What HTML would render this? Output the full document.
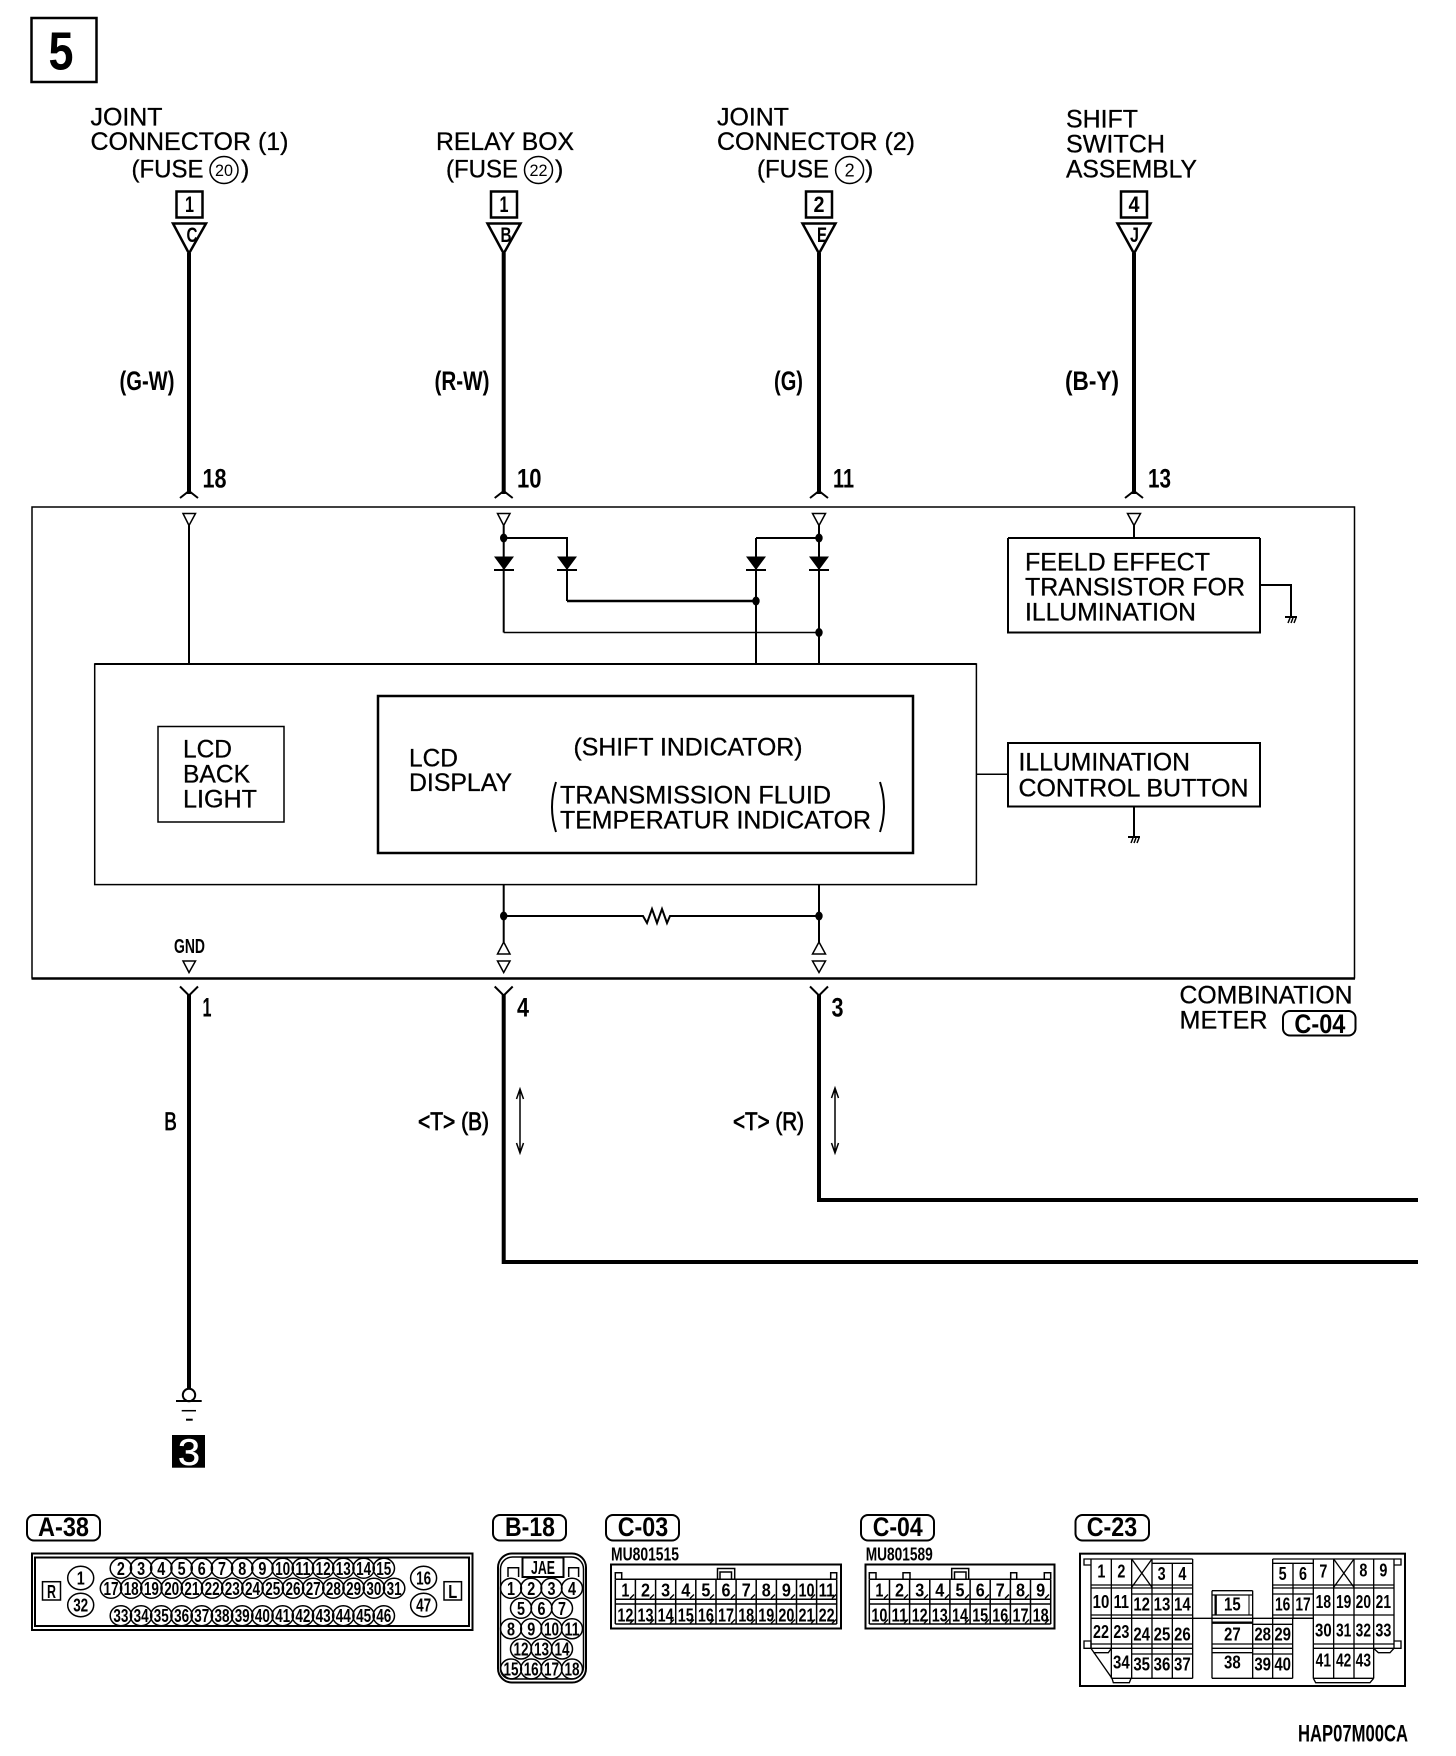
<!DOCTYPE html>
<html><head><meta charset="utf-8"><title>Diagram</title>
<style>
html,body{margin:0;padding:0;background:#fff}
svg{display:block}
text{font-family:"Liberation Sans",sans-serif;fill:#000}
.r{font-size:25px;stroke:#000;stroke-width:.3}
.b{font-size:27px;font-weight:bold}
.m{text-anchor:middle}
.d{font-size:18px;font-weight:bold;text-anchor:middle}
.k{font-size:56px;font-weight:bold;text-anchor:middle}
.t{fill:none;stroke:#000;stroke-width:1.5}
.w{fill:none;stroke:#000;stroke-width:2}
.h{fill:none;stroke:#000;stroke-width:4}
.z{fill:none;stroke:#000;stroke-width:2.5}
.e{fill:none;stroke:#000;stroke-width:1.4}
.f{fill:#000;stroke:none}
</style></head><body>
<svg xmlns="http://www.w3.org/2000/svg" width="1456" height="1756" viewBox="0 0 1456 1756">
<rect width="1456" height="1756" fill="#fff"/>

<!-- Section number -->
<rect class="z" x="31.5" y="18" width="65" height="64"/>
<text x="48.5" y="69.5" font-size="54" font-weight="bold" textLength="25" lengthAdjust="spacingAndGlyphs">5</text>

<!-- Top labels -->
<text class="r" x="90.5" y="125.7" textLength="72" lengthAdjust="spacingAndGlyphs">JOINT</text>
<text class="r" x="90.5" y="150" textLength="198" lengthAdjust="spacingAndGlyphs">CONNECTOR (1)</text>
<text class="r" x="131.5" y="177.5" textLength="72" lengthAdjust="spacingAndGlyphs">(FUSE</text>
<ellipse class="t" cx="224" cy="170" rx="14" ry="13.5"/>
<text class="m" x="224" y="176" font-size="17" textLength="18" lengthAdjust="spacingAndGlyphs">20</text>
<text class="r" x="241" y="177.5">)</text>

<text class="r" x="436" y="150" textLength="138" lengthAdjust="spacingAndGlyphs">RELAY BOX</text>
<text class="r" x="446" y="177.5" textLength="72" lengthAdjust="spacingAndGlyphs">(FUSE</text>
<ellipse class="t" cx="538.5" cy="170" rx="14" ry="13.5"/>
<text class="m" x="538.5" y="176" font-size="17" textLength="18" lengthAdjust="spacingAndGlyphs">22</text>
<text class="r" x="555" y="177.5">)</text>

<text class="r" x="717" y="125.7" textLength="72" lengthAdjust="spacingAndGlyphs">JOINT</text>
<text class="r" x="717" y="150" textLength="198" lengthAdjust="spacingAndGlyphs">CONNECTOR (2)</text>
<text class="r" x="757" y="177.5" textLength="72" lengthAdjust="spacingAndGlyphs">(FUSE</text>
<ellipse class="t" cx="849.6" cy="170" rx="14" ry="13.5"/>
<text class="m" x="849.6" y="176.5" font-size="18">2</text>
<text class="r" x="865" y="177.5">)</text>

<text class="r" x="1066" y="127.5" textLength="72" lengthAdjust="spacingAndGlyphs">SHIFT</text>
<text class="r" x="1066" y="152.5" textLength="99" lengthAdjust="spacingAndGlyphs">SWITCH</text>
<text class="r" x="1066" y="177.5" textLength="131" lengthAdjust="spacingAndGlyphs">ASSEMBLY</text>

<!-- Number squares -->
<rect class="z" x="176.5" y="191.5" width="26" height="26"/>
<text class="m" x="189.5" y="212" font-size="22" font-weight="bold" textLength="9" lengthAdjust="spacingAndGlyphs">1</text>
<rect class="z" x="491" y="191.5" width="26" height="26"/>
<text class="m" x="504" y="212" font-size="22" font-weight="bold" textLength="9" lengthAdjust="spacingAndGlyphs">1</text>
<rect class="z" x="806" y="191.5" width="26" height="26"/>
<text class="m" x="819" y="212" font-size="22" font-weight="bold" textLength="11" lengthAdjust="spacingAndGlyphs">2</text>
<rect class="z" x="1121" y="191.5" width="26" height="26"/>
<text class="m" x="1134" y="212" font-size="22" font-weight="bold" textLength="11" lengthAdjust="spacingAndGlyphs">4</text>

<!-- Big triangles -->
<path class="z" d="M173 223.5H206L189 253.5Z"/>
<path class="z" d="M487.5 223.5H520.5L503.7 253.5Z"/>
<path class="z" d="M802.5 223.5H835.5L819 253.5Z"/>
<path class="z" d="M1117.5 223.5H1150.5L1134 253.5Z"/>
<text class="m" x="192" y="242" font-size="21" font-weight="bold" textLength="11" lengthAdjust="spacingAndGlyphs">C</text>
<text class="m" x="506" y="242" font-size="21" font-weight="bold" textLength="11" lengthAdjust="spacingAndGlyphs">B</text>
<text class="m" x="822" y="242" font-size="21" font-weight="bold" textLength="10" lengthAdjust="spacingAndGlyphs">E</text>
<text class="m" x="1134.5" y="242" font-size="21" font-weight="bold" textLength="9" lengthAdjust="spacingAndGlyphs">J</text>

<!-- Upper wires -->
<path class="h" d="M189 253V494M503.7 253V494M819 253V494M1134 253V494"/>
<path class="w" d="M180 498L189 491L198 498M494.7 498L503.7 491L512.7 498M810 498L819 491L828 498M1125 498L1134 491L1143 498"/>

<text class="b" x="119.5" y="390" font-size="28" textLength="55" lengthAdjust="spacingAndGlyphs">(G-W)</text>
<text class="b" x="434.5" y="390" font-size="28" textLength="55" lengthAdjust="spacingAndGlyphs">(R-W)</text>
<text class="b" x="774" y="390" font-size="28" textLength="29" lengthAdjust="spacingAndGlyphs">(G)</text>
<text class="b" x="1065" y="390" font-size="28" textLength="54" lengthAdjust="spacingAndGlyphs">(B-Y)</text>
<text class="b" x="202.5" y="487.5" textLength="24" lengthAdjust="spacingAndGlyphs">18</text>
<text class="b" x="517" y="487.5" textLength="24.5" lengthAdjust="spacingAndGlyphs">10</text>
<text class="b" x="833" y="487.5" textLength="21" lengthAdjust="spacingAndGlyphs">11</text>
<text class="b" x="1148" y="487.5" textLength="23" lengthAdjust="spacingAndGlyphs">13</text>

<!-- Meter box -->
<path class="t" d="M32 978.5V507H1354.5V978.5"/>
<path class="z" d="M31.5 978.5H1355"/>

<!-- Small triangles top -->
<path class="t" d="M183 513.5H195.5L189 525.5Z"/>
<path class="t" d="M497.5 513.5H510L503.7 525.5Z"/>
<path class="t" d="M812.5 513.5H825.5L819 525.5Z"/>
<path class="t" d="M1127.5 513.5H1140.5L1134 525.5Z"/>

<!-- Inner wires -->
<path class="w" d="M189 525.5V664"/>
<path class="w" d="M503.7 525.5V632.5M503.7 538H567V601M756 538H819M819 525.5V664M756 538V664M1134 525.5V538"/>
<path class="z" d="M567 601H756"/>
<path class="t" d="M503.7 632.5H819"/>
<ellipse class="f" cx="503.7" cy="538" rx="3.7" ry="4.5"/>
<ellipse class="f" cx="819" cy="538" rx="3.7" ry="4.5"/>
<ellipse class="f" cx="756" cy="601" rx="3.7" ry="4.5"/>
<ellipse class="f" cx="819" cy="632.5" rx="3.7" ry="4.5"/>
<path class="f" d="M494 556.5H514L504 570ZM557 556.5H577L567 570ZM746 556.5H766L756 570ZM809 556.5H829L819 570Z"/>
<path class="w" d="M494 570H514M557 570H577M746 570H766M809 570H829"/>

<!-- FET box -->
<path class="w" d="M1008 538H1260M1008 538V632.5H1260V538"/>
<text class="r" x="1025" y="570.7" textLength="185" lengthAdjust="spacingAndGlyphs">FEELD EFFECT</text>
<text class="r" x="1025" y="595.7" textLength="220" lengthAdjust="spacingAndGlyphs">TRANSISTOR FOR</text>
<text class="r" x="1025" y="620.7" textLength="171" lengthAdjust="spacingAndGlyphs">ILLUMINATION</text>
<path class="w" d="M1261 585H1291V617"/>
<path class="w" d="M1285 617H1297"/>
<path class="t" d="M1288 623L1290 618M1291 623L1293 618M1294 623L1296 618"/>

<!-- Illumination control -->
<rect class="w" x="1008" y="743" width="252" height="63.5"/>
<text class="r" x="1018.5" y="770.7" textLength="171.5" lengthAdjust="spacingAndGlyphs">ILLUMINATION</text>
<text class="r" x="1018.5" y="796.4" textLength="230" lengthAdjust="spacingAndGlyphs">CONTROL BUTTON</text>
<path class="t" d="M976.5 774.3H1008"/>
<path class="w" d="M1134 806.5V837M1128 837H1140"/>
<path class="t" d="M1131 843L1133 838M1134 843L1136 838M1137 843L1139 838"/>

<!-- LCD outer box -->
<rect class="t" x="94.7" y="664" width="881.7" height="220.6"/>
<path class="w" d="M94.7 664H976.4"/>
<rect class="t" x="158" y="726.5" width="126" height="95.5"/>
<text class="r" x="183" y="757.5" textLength="49" lengthAdjust="spacingAndGlyphs">LCD</text>
<text class="r" x="183" y="782.5" textLength="67" lengthAdjust="spacingAndGlyphs">BACK</text>
<text class="r" x="183" y="807.5" textLength="74" lengthAdjust="spacingAndGlyphs">LIGHT</text>

<rect class="z" x="378" y="696" width="535" height="157"/>
<text class="r" x="409" y="766.5" textLength="49" lengthAdjust="spacingAndGlyphs">LCD</text>
<text class="r" x="409" y="791" textLength="103" lengthAdjust="spacingAndGlyphs">DISPLAY</text>
<text class="r" x="573.5" y="755.4" textLength="229" lengthAdjust="spacingAndGlyphs">(SHIFT INDICATOR)</text>
<text class="r" x="560" y="803.6" textLength="271" lengthAdjust="spacingAndGlyphs">TRANSMISSION FLUID</text>
<text class="r" x="560" y="828.6" textLength="311" lengthAdjust="spacingAndGlyphs">TEMPERATUR INDICATOR</text>
<path class="w" d="M556 782Q548 807 556 832M880 782Q888 807 880 832"/>

<!-- Lower inner -->
<path class="w" d="M503.7 884.6V942M819 884.6V942"/>
<path class="w" d="M503.7 916H643L647 923L652 909L657 923L662 909L667 923L670 916H819"/>
<ellipse class="f" cx="503.7" cy="916" rx="3.7" ry="4.5"/>
<ellipse class="f" cx="819" cy="916" rx="3.7" ry="4.5"/>
<path class="t" d="M503.7 942L510 954H497.5Z"/>
<path class="t" d="M819 942L825.5 954H812.5Z"/>
<path class="t" d="M183 961H195.5L189 972.5Z"/>
<path class="t" d="M497.5 961H510L503.7 972.5Z"/>
<path class="t" d="M812.5 961H825.5L819 972.5Z"/>
<text class="m" x="189.5" y="953" font-size="20" font-weight="bold" textLength="31" lengthAdjust="spacingAndGlyphs">GND</text>

<!-- Lower wires -->
<path class="w" d="M180 986.5L189 995.5L198 986.5M494.7 986.5L503.7 995.5L512.7 986.5M810 986.5L819 995.5L828 986.5"/>
<path class="h" d="M189 994V1388"/>
<path class="h" d="M503.7 994V1262H1418"/>
<path class="h" d="M819 994V1200H1418"/>
<text class="b" x="202.5" y="1016.5" textLength="9" lengthAdjust="spacingAndGlyphs">1</text>
<text class="b" x="517" y="1016.5" textLength="12" lengthAdjust="spacingAndGlyphs">4</text>
<text class="b" x="831.5" y="1016.5" textLength="12" lengthAdjust="spacingAndGlyphs">3</text>

<text class="r" x="1179.5" y="1003.6" textLength="173" lengthAdjust="spacingAndGlyphs">COMBINATION</text>
<text class="r" x="1179.5" y="1028.6" textLength="88" lengthAdjust="spacingAndGlyphs">METER</text>
<rect class="w" x="1283" y="1011" width="72.5" height="24.5" rx="7"/>
<text class="b" x="1294.4" y="1033" textLength="51" lengthAdjust="spacingAndGlyphs">C-04</text>

<text class="r" x="164.3" y="1130" textLength="12.5" lengthAdjust="spacingAndGlyphs" style="stroke-width:.8">B</text>
<text class="r" x="418" y="1130" textLength="71" lengthAdjust="spacingAndGlyphs" style="stroke-width:.8">&lt;T&gt; (B)</text>
<text class="r" x="733" y="1130" textLength="71" lengthAdjust="spacingAndGlyphs" style="stroke-width:.8">&lt;T&gt; (R)</text>
<path class="t" d="M520 1089V1153M516.5 1099L520 1089L523.5 1099M516.5 1143L520 1153L523.5 1143"/>
<path class="t" d="M835 1088V1153M831.5 1098L835 1088L838.5 1098M831.5 1143L835 1153L838.5 1143"/>

<!-- Ground -->
<circle class="w" cx="189" cy="1395" r="6.2"/>
<path class="w" d="M176 1401H201.7"/>
<path class="t" d="M181.7 1410.7H196"/>
<path class="w" d="M186 1419.7H192.7"/>
<rect class="f" x="172" y="1435" width="33" height="32.7"/>
<text class="m" x="189" y="1465" font-size="37" textLength="22" lengthAdjust="spacingAndGlyphs" style="fill:#fff;stroke:#fff;stroke-width:.5">3</text>

<!-- A-38 -->
<rect class="w" x="27" y="1515" width="73" height="25.5" rx="7"/>
<text class="b" x="38" y="1536" textLength="51" lengthAdjust="spacingAndGlyphs">A-38</text>
<rect class="w" x="32" y="1553.5" width="440.5" height="76.5"/>
<rect class="w" x="35" y="1557.5" width="434" height="68.5"/>
<rect class="t" x="42.5" y="1581.7" width="18" height="18.3"/>
<text class="d" x="51.5" y="1598" font-size="17" textLength="9" lengthAdjust="spacingAndGlyphs">R</text>
<rect class="t" x="444" y="1581.7" width="17.5" height="18.3"/>
<text class="d" x="452.7" y="1598" textLength="9" lengthAdjust="spacingAndGlyphs">L</text>
<g class="t">
<ellipse cx="80.7" cy="1578" rx="13" ry="11.7"/><ellipse cx="80.7" cy="1605" rx="13" ry="11.7"/><ellipse cx="423.6" cy="1578" rx="13" ry="11.7"/><ellipse cx="423.6" cy="1605" rx="13" ry="11.7"/>
<ellipse cx="120.9" cy="1568.3" rx="10.7" ry="10"/><ellipse cx="141.1" cy="1568.3" rx="10.7" ry="10"/><ellipse cx="161.3" cy="1568.3" rx="10.7" ry="10"/><ellipse cx="181.6" cy="1568.3" rx="10.7" ry="10"/><ellipse cx="201.8" cy="1568.3" rx="10.7" ry="10"/><ellipse cx="222" cy="1568.3" rx="10.7" ry="10"/><ellipse cx="242.2" cy="1568.3" rx="10.7" ry="10"/><ellipse cx="262.4" cy="1568.3" rx="10.7" ry="10"/><ellipse cx="282.7" cy="1568.3" rx="10.7" ry="10"/><ellipse cx="302.9" cy="1568.3" rx="10.7" ry="10"/><ellipse cx="323.1" cy="1568.3" rx="10.7" ry="10"/><ellipse cx="343.3" cy="1568.3" rx="10.7" ry="10"/><ellipse cx="363.6" cy="1568.3" rx="10.7" ry="10"/><ellipse cx="383.8" cy="1568.3" rx="10.7" ry="10"/>
<ellipse cx="111" cy="1588.3" rx="10.7" ry="10"/><ellipse cx="131.2" cy="1588.3" rx="10.7" ry="10"/><ellipse cx="151.4" cy="1588.3" rx="10.7" ry="10"/><ellipse cx="171.7" cy="1588.3" rx="10.7" ry="10"/><ellipse cx="191.9" cy="1588.3" rx="10.7" ry="10"/><ellipse cx="212.1" cy="1588.3" rx="10.7" ry="10"/><ellipse cx="232.3" cy="1588.3" rx="10.7" ry="10"/><ellipse cx="252.5" cy="1588.3" rx="10.7" ry="10"/><ellipse cx="272.8" cy="1588.3" rx="10.7" ry="10"/><ellipse cx="293" cy="1588.3" rx="10.7" ry="10"/><ellipse cx="313.2" cy="1588.3" rx="10.7" ry="10"/><ellipse cx="333.4" cy="1588.3" rx="10.7" ry="10"/><ellipse cx="353.6" cy="1588.3" rx="10.7" ry="10"/><ellipse cx="373.9" cy="1588.3" rx="10.7" ry="10"/><ellipse cx="394.1" cy="1588.3" rx="10.7" ry="10"/>
<ellipse cx="120.9" cy="1615.7" rx="10.7" ry="10"/><ellipse cx="141.1" cy="1615.7" rx="10.7" ry="10"/><ellipse cx="161.3" cy="1615.7" rx="10.7" ry="10"/><ellipse cx="181.6" cy="1615.7" rx="10.7" ry="10"/><ellipse cx="201.8" cy="1615.7" rx="10.7" ry="10"/><ellipse cx="222" cy="1615.7" rx="10.7" ry="10"/><ellipse cx="242.2" cy="1615.7" rx="10.7" ry="10"/><ellipse cx="262.4" cy="1615.7" rx="10.7" ry="10"/><ellipse cx="282.7" cy="1615.7" rx="10.7" ry="10"/><ellipse cx="302.9" cy="1615.7" rx="10.7" ry="10"/><ellipse cx="323.1" cy="1615.7" rx="10.7" ry="10"/><ellipse cx="343.3" cy="1615.7" rx="10.7" ry="10"/><ellipse cx="363.6" cy="1615.7" rx="10.7" ry="10"/><ellipse cx="383.8" cy="1615.7" rx="10.7" ry="10"/>
</g>
<g>
<text class="d" x="80.7" y="1584.5" textLength="8" lengthAdjust="spacingAndGlyphs">1</text><text class="d" x="80.7" y="1611.5" textLength="15" lengthAdjust="spacingAndGlyphs">32</text><text class="d" x="423.6" y="1584.5" textLength="15" lengthAdjust="spacingAndGlyphs">16</text><text class="d" x="423.6" y="1611.5" textLength="15" lengthAdjust="spacingAndGlyphs">47</text>
<text class="d" x="120.9" y="1575" textLength="8" lengthAdjust="spacingAndGlyphs">2</text><text class="d" x="141.1" y="1575" textLength="8" lengthAdjust="spacingAndGlyphs">3</text><text class="d" x="161.3" y="1575" textLength="8" lengthAdjust="spacingAndGlyphs">4</text><text class="d" x="181.6" y="1575" textLength="8" lengthAdjust="spacingAndGlyphs">5</text><text class="d" x="201.8" y="1575" textLength="8" lengthAdjust="spacingAndGlyphs">6</text><text class="d" x="222" y="1575" textLength="8" lengthAdjust="spacingAndGlyphs">7</text><text class="d" x="242.2" y="1575" textLength="8" lengthAdjust="spacingAndGlyphs">8</text><text class="d" x="262.4" y="1575" textLength="8" lengthAdjust="spacingAndGlyphs">9</text><text class="d" x="282.7" y="1575" textLength="15" lengthAdjust="spacingAndGlyphs">10</text><text class="d" x="302.9" y="1575" textLength="15" lengthAdjust="spacingAndGlyphs">11</text><text class="d" x="323.1" y="1575" textLength="15" lengthAdjust="spacingAndGlyphs">12</text><text class="d" x="343.3" y="1575" textLength="15" lengthAdjust="spacingAndGlyphs">13</text><text class="d" x="363.6" y="1575" textLength="15" lengthAdjust="spacingAndGlyphs">14</text><text class="d" x="383.8" y="1575" textLength="15" lengthAdjust="spacingAndGlyphs">15</text>
<text class="d" x="111" y="1595" textLength="15" lengthAdjust="spacingAndGlyphs">17</text><text class="d" x="131.2" y="1595" textLength="15" lengthAdjust="spacingAndGlyphs">18</text><text class="d" x="151.4" y="1595" textLength="15" lengthAdjust="spacingAndGlyphs">19</text><text class="d" x="171.7" y="1595" textLength="15" lengthAdjust="spacingAndGlyphs">20</text><text class="d" x="191.9" y="1595" textLength="15" lengthAdjust="spacingAndGlyphs">21</text><text class="d" x="212.1" y="1595" textLength="15" lengthAdjust="spacingAndGlyphs">22</text><text class="d" x="232.3" y="1595" textLength="15" lengthAdjust="spacingAndGlyphs">23</text><text class="d" x="252.5" y="1595" textLength="15" lengthAdjust="spacingAndGlyphs">24</text><text class="d" x="272.8" y="1595" textLength="15" lengthAdjust="spacingAndGlyphs">25</text><text class="d" x="293" y="1595" textLength="15" lengthAdjust="spacingAndGlyphs">26</text><text class="d" x="313.2" y="1595" textLength="15" lengthAdjust="spacingAndGlyphs">27</text><text class="d" x="333.4" y="1595" textLength="15" lengthAdjust="spacingAndGlyphs">28</text><text class="d" x="353.6" y="1595" textLength="15" lengthAdjust="spacingAndGlyphs">29</text><text class="d" x="373.9" y="1595" textLength="15" lengthAdjust="spacingAndGlyphs">30</text><text class="d" x="394.1" y="1595" textLength="15" lengthAdjust="spacingAndGlyphs">31</text>
<text class="d" x="120.9" y="1622" textLength="15" lengthAdjust="spacingAndGlyphs">33</text><text class="d" x="141.1" y="1622" textLength="15" lengthAdjust="spacingAndGlyphs">34</text><text class="d" x="161.3" y="1622" textLength="15" lengthAdjust="spacingAndGlyphs">35</text><text class="d" x="181.6" y="1622" textLength="15" lengthAdjust="spacingAndGlyphs">36</text><text class="d" x="201.8" y="1622" textLength="15" lengthAdjust="spacingAndGlyphs">37</text><text class="d" x="222" y="1622" textLength="15" lengthAdjust="spacingAndGlyphs">38</text><text class="d" x="242.2" y="1622" textLength="15" lengthAdjust="spacingAndGlyphs">39</text><text class="d" x="262.4" y="1622" textLength="15" lengthAdjust="spacingAndGlyphs">40</text><text class="d" x="282.7" y="1622" textLength="15" lengthAdjust="spacingAndGlyphs">41</text><text class="d" x="302.9" y="1622" textLength="15" lengthAdjust="spacingAndGlyphs">42</text><text class="d" x="323.1" y="1622" textLength="15" lengthAdjust="spacingAndGlyphs">43</text><text class="d" x="343.3" y="1622" textLength="15" lengthAdjust="spacingAndGlyphs">44</text><text class="d" x="363.6" y="1622" textLength="15" lengthAdjust="spacingAndGlyphs">45</text><text class="d" x="383.8" y="1622" textLength="15" lengthAdjust="spacingAndGlyphs">46</text>
</g>

<!-- B-18 -->
<rect class="w" x="493" y="1515" width="73" height="25.5" rx="7"/>
<text class="b" x="505" y="1536" textLength="50" lengthAdjust="spacingAndGlyphs">B-18</text>
<rect class="w" x="498" y="1553.5" width="88" height="129" rx="14"/>
<rect class="t" x="500.5" y="1557" width="83" height="122" rx="12"/>
<rect class="w" x="522.5" y="1557.5" width="41" height="19.5"/>
<text class="d" x="543" y="1574" textLength="24" lengthAdjust="spacingAndGlyphs">JAE</text>
<path class="t" d="M508 1577V1567.7H518.6V1577M568.7 1577V1567.7H578.6V1577"/>
<g class="t">
<ellipse cx="511" cy="1588.3" rx="10.5" ry="10"/><ellipse cx="531.2" cy="1588.3" rx="10.5" ry="10"/><ellipse cx="551.5" cy="1588.3" rx="10.5" ry="10"/><ellipse cx="572" cy="1588.3" rx="10.5" ry="10"/>
<ellipse cx="521" cy="1608.3" rx="10.5" ry="10"/><ellipse cx="541.5" cy="1608.3" rx="10.5" ry="10"/><ellipse cx="562" cy="1608.3" rx="10.5" ry="10"/>
<ellipse cx="511" cy="1628.7" rx="10.5" ry="10"/><ellipse cx="531.2" cy="1628.7" rx="10.5" ry="10"/><ellipse cx="551.5" cy="1628.7" rx="10.5" ry="10"/><ellipse cx="572" cy="1628.7" rx="10.5" ry="10"/>
<ellipse cx="521" cy="1649" rx="10.5" ry="10"/><ellipse cx="541.5" cy="1649" rx="10.5" ry="10"/><ellipse cx="562" cy="1649" rx="10.5" ry="10"/>
<ellipse cx="511" cy="1669" rx="10.5" ry="10"/><ellipse cx="531.2" cy="1669" rx="10.5" ry="10"/><ellipse cx="551.5" cy="1669" rx="10.5" ry="10"/><ellipse cx="572" cy="1669" rx="10.5" ry="10"/>
</g>
<g>
<text class="d" x="511" y="1595" textLength="8" lengthAdjust="spacingAndGlyphs">1</text><text class="d" x="531.2" y="1595" textLength="8" lengthAdjust="spacingAndGlyphs">2</text><text class="d" x="551.5" y="1595" textLength="8" lengthAdjust="spacingAndGlyphs">3</text><text class="d" x="572" y="1595" textLength="8" lengthAdjust="spacingAndGlyphs">4</text>
<text class="d" x="521" y="1615" textLength="8" lengthAdjust="spacingAndGlyphs">5</text><text class="d" x="541.5" y="1615" textLength="8" lengthAdjust="spacingAndGlyphs">6</text><text class="d" x="562" y="1615" textLength="8" lengthAdjust="spacingAndGlyphs">7</text>
<text class="d" x="511" y="1635.4" textLength="8" lengthAdjust="spacingAndGlyphs">8</text><text class="d" x="531.2" y="1635.4" textLength="8" lengthAdjust="spacingAndGlyphs">9</text><text class="d" x="551.5" y="1635.4" textLength="15" lengthAdjust="spacingAndGlyphs">10</text><text class="d" x="572" y="1635.4" textLength="15" lengthAdjust="spacingAndGlyphs">11</text>
<text class="d" x="521" y="1655.7" textLength="15" lengthAdjust="spacingAndGlyphs">12</text><text class="d" x="541.5" y="1655.7" textLength="15" lengthAdjust="spacingAndGlyphs">13</text><text class="d" x="562" y="1655.7" textLength="15" lengthAdjust="spacingAndGlyphs">14</text>
<text class="d" x="511" y="1675.7" textLength="15" lengthAdjust="spacingAndGlyphs">15</text><text class="d" x="531.2" y="1675.7" textLength="15" lengthAdjust="spacingAndGlyphs">16</text><text class="d" x="551.5" y="1675.7" textLength="15" lengthAdjust="spacingAndGlyphs">17</text><text class="d" x="572" y="1675.7" textLength="15" lengthAdjust="spacingAndGlyphs">18</text>
</g>

<!-- C-03 -->
<rect class="w" x="606" y="1515" width="73" height="25.5" rx="7"/>
<text class="b" x="617.7" y="1536" textLength="50.5" lengthAdjust="spacingAndGlyphs">C-03</text>
<text x="611" y="1560.7" font-size="18" font-weight="bold" textLength="68" lengthAdjust="spacingAndGlyphs">MU801515</text>
<rect class="w" x="611" y="1564.5" width="230" height="64"/>
<path class="t" d="M615.3 1579.3H836.7M615.3 1599.3H836.7M615.3 1604H836.7M615.3 1624H836.7"/>
<path class="t" d="M615.3 1579.3V1624M635.4 1579.3V1624M655.6 1579.3V1624M675.7 1579.3V1624M695.8 1579.3V1624M716 1579.3V1624M736.1 1579.3V1624M756.2 1579.3V1624M776.4 1579.3V1624M796.5 1579.3V1624M816.6 1579.3V1624M836.7 1579.3V1624"/>
<path class="t" d="M615.3 1579V1572.7H621.7V1579M830.7 1579V1572.7H836.7V1579M717.5 1579V1568.5H734.7V1579M720 1579V1572H731.5V1579"/>
<path class="e" d="M630 1598.5l4-4M650 1598.5l4-4M670 1598.5l4-4M690 1598.5l4-4M710 1598.5l4-4M731 1598.5l4-4M751 1598.5l4-4M771 1598.5l4-4M791 1598.5l4-4M811 1598.5l4-4M832 1598.5l4-4M630 1623.5l4-4M650 1623.5l4-4M670 1623.5l4-4M690 1623.5l4-4M710 1623.5l4-4M731 1623.5l4-4M751 1623.5l4-4M771 1623.5l4-4M791 1623.5l4-4M811 1623.5l4-4M832 1623.5l4-4"/>
<g>
<text class="d" x="625.4" y="1596.7" textLength="8" lengthAdjust="spacingAndGlyphs">1</text><text class="d" x="645.5" y="1596.7" textLength="9" lengthAdjust="spacingAndGlyphs">2</text><text class="d" x="665.6" y="1596.7" textLength="9" lengthAdjust="spacingAndGlyphs">3</text><text class="d" x="685.8" y="1596.7" textLength="9" lengthAdjust="spacingAndGlyphs">4</text><text class="d" x="705.9" y="1596.7" textLength="9" lengthAdjust="spacingAndGlyphs">5</text><text class="d" x="726" y="1596.7" textLength="9" lengthAdjust="spacingAndGlyphs">6</text><text class="d" x="746.2" y="1596.7" textLength="9" lengthAdjust="spacingAndGlyphs">7</text><text class="d" x="766.3" y="1596.7" textLength="9" lengthAdjust="spacingAndGlyphs">8</text><text class="d" x="786.4" y="1596.7" textLength="9" lengthAdjust="spacingAndGlyphs">9</text><text class="d" x="806.5" y="1596.7" textLength="16" lengthAdjust="spacingAndGlyphs">10</text><text class="d" x="826.6" y="1596.7" textLength="16" lengthAdjust="spacingAndGlyphs">11</text>
<text class="d" x="625.4" y="1621.7" textLength="16" lengthAdjust="spacingAndGlyphs">12</text><text class="d" x="645.5" y="1621.7" textLength="16" lengthAdjust="spacingAndGlyphs">13</text><text class="d" x="665.6" y="1621.7" textLength="16" lengthAdjust="spacingAndGlyphs">14</text><text class="d" x="685.8" y="1621.7" textLength="16" lengthAdjust="spacingAndGlyphs">15</text><text class="d" x="705.9" y="1621.7" textLength="16" lengthAdjust="spacingAndGlyphs">16</text><text class="d" x="726" y="1621.7" textLength="16" lengthAdjust="spacingAndGlyphs">17</text><text class="d" x="746.2" y="1621.7" textLength="16" lengthAdjust="spacingAndGlyphs">18</text><text class="d" x="766.3" y="1621.7" textLength="16" lengthAdjust="spacingAndGlyphs">19</text><text class="d" x="786.4" y="1621.7" textLength="16" lengthAdjust="spacingAndGlyphs">20</text><text class="d" x="806.5" y="1621.7" textLength="16" lengthAdjust="spacingAndGlyphs">21</text><text class="d" x="826.6" y="1621.7" textLength="16" lengthAdjust="spacingAndGlyphs">22</text>
</g>

<!-- C-04 -->
<rect class="w" x="861" y="1515" width="73" height="25.5" rx="7"/>
<text class="b" x="872.7" y="1536" textLength="50" lengthAdjust="spacingAndGlyphs">C-04</text>
<text x="865.7" y="1560.7" font-size="18" font-weight="bold" textLength="67" lengthAdjust="spacingAndGlyphs">MU801589</text>
<rect class="w" x="865.5" y="1564.5" width="189" height="64"/>
<path class="t" d="M869.3 1579.3H1050.7M869.3 1599.3H1050.7M869.3 1604H1050.7M869.3 1624H1050.7"/>
<path class="t" d="M869.3 1579.3V1624M889.5 1579.3V1624M909.6 1579.3V1624M929.8 1579.3V1624M949.9 1579.3V1624M970.1 1579.3V1624M990.2 1579.3V1624M1010.4 1579.3V1624M1030.5 1579.3V1624M1050.7 1579.3V1624"/>
<path class="t" d="M869.3 1579V1572.7H876V1579M903 1579V1572.7H910V1579M1010.7 1579V1572.7H1016.7V1579M1044.3 1579V1572.7H1050.7V1579M951.7 1579V1568.5H968.7V1579M954.5 1579V1572H966V1579"/>
<path class="e" d="M884 1598.5l4-4M904 1598.5l4-4M924 1598.5l4-4M945 1598.5l4-4M965 1598.5l4-4M985 1598.5l4-4M1005 1598.5l4-4M1025 1598.5l4-4M1045 1598.5l4-4M884 1623.5l4-4M904 1623.5l4-4M924 1623.5l4-4M945 1623.5l4-4M965 1623.5l4-4M985 1623.5l4-4M1005 1623.5l4-4M1025 1623.5l4-4M1045 1623.5l4-4"/>
<g>
<text class="d" x="879.4" y="1596.7" textLength="8" lengthAdjust="spacingAndGlyphs">1</text><text class="d" x="899.5" y="1596.7" textLength="9" lengthAdjust="spacingAndGlyphs">2</text><text class="d" x="919.7" y="1596.7" textLength="9" lengthAdjust="spacingAndGlyphs">3</text><text class="d" x="939.8" y="1596.7" textLength="9" lengthAdjust="spacingAndGlyphs">4</text><text class="d" x="960" y="1596.7" textLength="9" lengthAdjust="spacingAndGlyphs">5</text><text class="d" x="980.2" y="1596.7" textLength="9" lengthAdjust="spacingAndGlyphs">6</text><text class="d" x="1000.3" y="1596.7" textLength="9" lengthAdjust="spacingAndGlyphs">7</text><text class="d" x="1020.5" y="1596.7" textLength="9" lengthAdjust="spacingAndGlyphs">8</text><text class="d" x="1040.6" y="1596.7" textLength="9" lengthAdjust="spacingAndGlyphs">9</text>
<text class="d" x="879.4" y="1621.7" textLength="16" lengthAdjust="spacingAndGlyphs">10</text><text class="d" x="899.5" y="1621.7" textLength="16" lengthAdjust="spacingAndGlyphs">11</text><text class="d" x="919.7" y="1621.7" textLength="16" lengthAdjust="spacingAndGlyphs">12</text><text class="d" x="939.8" y="1621.7" textLength="16" lengthAdjust="spacingAndGlyphs">13</text><text class="d" x="960" y="1621.7" textLength="16" lengthAdjust="spacingAndGlyphs">14</text><text class="d" x="980.2" y="1621.7" textLength="16" lengthAdjust="spacingAndGlyphs">15</text><text class="d" x="1000.3" y="1621.7" textLength="16" lengthAdjust="spacingAndGlyphs">16</text><text class="d" x="1020.5" y="1621.7" textLength="16" lengthAdjust="spacingAndGlyphs">17</text><text class="d" x="1040.6" y="1621.7" textLength="16" lengthAdjust="spacingAndGlyphs">18</text>
</g>

<!-- C-23 -->
<rect class="w" x="1075.5" y="1515" width="73.5" height="25.5" rx="7"/>
<text class="b" x="1086.7" y="1536" textLength="50.5" lengthAdjust="spacingAndGlyphs">C-23</text>
<g transform="translate(1050 1500) scale(.33333)">
<rect x="90" y="161" width="975" height="397" fill="none" stroke="#000" stroke-width="6"/>
<g fill="none" stroke="#000" stroke-width="4">
<path d="M123 195H102V177H123M123 445H102V423H123V445M1032 195H1053V177H1032M1032 445H1053V423H1032"/>
<path d="M123 177H428M306 190H428M123 255H428M123 264H428M245 282H428M123 345H428M123 355H486M123 432H428M123 445H428M245 462H428M184 535H428"/>
<path d="M123 177V445M184 177V535M245 177V535M306 177V535M367 190V535M428 177V535"/>
<path d="M245 177L306 262M306 177L245 262M851 177L912 262M912 177L851 262"/>
<path d="M123 445L186 535L190 548H238L243 535M130 458H175L184 445"/>
<path d="M486 272H608M486 285H608M486 345H608M486 355H608M486 432H608M486 445H608M486 458H608M486 535H728M486 272V535M608 272V535"/>
<path d="M608 355H790M608 373H728M608 432H728M608 445H728M608 462H728M668 355V535M728 355V535"/>
<path d="M668 177H1032M668 190H790M668 255H1032M668 264H1032M668 282H790M668 345H1032M668 355H790M790 432H1032M790 445H1032M790 535H971"/>
<path d="M668 177V355M729 190V355M790 177V535M851 177V535M912 177V535M971 177V535M1032 177V445"/>
<path d="M790 535L797 548H960L971 535M971 445L985 458H1020L1032 445"/>
</g>
<path d="M486 368H608M497 285V345" fill="none" stroke="#000" stroke-width="7"/>
<path d="M597 285V345" fill="none" stroke="#000" stroke-width="3"/>
<g>
<text class="k" x="154" y="232" textLength="24" lengthAdjust="spacingAndGlyphs">1</text><text class="k" x="214" y="232" textLength="24" lengthAdjust="spacingAndGlyphs">2</text><text class="k" x="335" y="240" textLength="24" lengthAdjust="spacingAndGlyphs">3</text><text class="k" x="397" y="240" textLength="24" lengthAdjust="spacingAndGlyphs">4</text><text class="k" x="698" y="240" textLength="24" lengthAdjust="spacingAndGlyphs">5</text><text class="k" x="759" y="240" textLength="24" lengthAdjust="spacingAndGlyphs">6</text><text class="k" x="820" y="232" textLength="24" lengthAdjust="spacingAndGlyphs">7</text><text class="k" x="940" y="230" textLength="24" lengthAdjust="spacingAndGlyphs">8</text><text class="k" x="1000" y="230" textLength="24" lengthAdjust="spacingAndGlyphs">9</text>
<text class="k" x="153" y="324" textLength="50" lengthAdjust="spacingAndGlyphs">10</text><text class="k" x="214" y="324" textLength="46" lengthAdjust="spacingAndGlyphs">11</text><text class="k" x="275" y="332" textLength="50" lengthAdjust="spacingAndGlyphs">12</text><text class="k" x="336" y="332" textLength="50" lengthAdjust="spacingAndGlyphs">13</text><text class="k" x="397" y="332" textLength="50" lengthAdjust="spacingAndGlyphs">14</text><text class="k" x="547" y="332" textLength="50" lengthAdjust="spacingAndGlyphs">15</text><text class="k" x="698" y="332" textLength="46" lengthAdjust="spacingAndGlyphs">16</text><text class="k" x="759" y="332" textLength="46" lengthAdjust="spacingAndGlyphs">17</text><text class="k" x="820" y="324" textLength="46" lengthAdjust="spacingAndGlyphs">18</text><text class="k" x="881" y="324" textLength="46" lengthAdjust="spacingAndGlyphs">19</text><text class="k" x="940" y="324" textLength="46" lengthAdjust="spacingAndGlyphs">20</text><text class="k" x="1000" y="324" textLength="46" lengthAdjust="spacingAndGlyphs">21</text>
<text class="k" x="153" y="414" textLength="48" lengthAdjust="spacingAndGlyphs">22</text><text class="k" x="214" y="414" textLength="48" lengthAdjust="spacingAndGlyphs">23</text><text class="k" x="275" y="422" textLength="50" lengthAdjust="spacingAndGlyphs">24</text><text class="k" x="336" y="422" textLength="50" lengthAdjust="spacingAndGlyphs">25</text><text class="k" x="397" y="422" textLength="50" lengthAdjust="spacingAndGlyphs">26</text><text class="k" x="547" y="422" textLength="50" lengthAdjust="spacingAndGlyphs">27</text><text class="k" x="638" y="422" textLength="50" lengthAdjust="spacingAndGlyphs">28</text><text class="k" x="698" y="422" textLength="50" lengthAdjust="spacingAndGlyphs">29</text><text class="k" x="820" y="410" textLength="50" lengthAdjust="spacingAndGlyphs">30</text><text class="k" x="881" y="410" textLength="46" lengthAdjust="spacingAndGlyphs">31</text><text class="k" x="940" y="410" textLength="46" lengthAdjust="spacingAndGlyphs">32</text><text class="k" x="1000" y="410" textLength="48" lengthAdjust="spacingAndGlyphs">33</text>
<text class="k" x="214" y="505" textLength="50" lengthAdjust="spacingAndGlyphs">34</text><text class="k" x="275" y="512" textLength="50" lengthAdjust="spacingAndGlyphs">35</text><text class="k" x="336" y="512" textLength="50" lengthAdjust="spacingAndGlyphs">36</text><text class="k" x="397" y="512" textLength="50" lengthAdjust="spacingAndGlyphs">37</text><text class="k" x="547" y="505" textLength="50" lengthAdjust="spacingAndGlyphs">38</text><text class="k" x="638" y="512" textLength="50" lengthAdjust="spacingAndGlyphs">39</text><text class="k" x="698" y="512" textLength="50" lengthAdjust="spacingAndGlyphs">40</text><text class="k" x="820" y="500" textLength="46" lengthAdjust="spacingAndGlyphs">41</text><text class="k" x="881" y="500" textLength="46" lengthAdjust="spacingAndGlyphs">42</text><text class="k" x="940" y="500" textLength="46" lengthAdjust="spacingAndGlyphs">43</text>
</g>
</g>

<text x="1298" y="1741.7" font-size="24" font-weight="bold" textLength="110" lengthAdjust="spacingAndGlyphs">HAP07M00CA</text>
</svg>
</body></html>
